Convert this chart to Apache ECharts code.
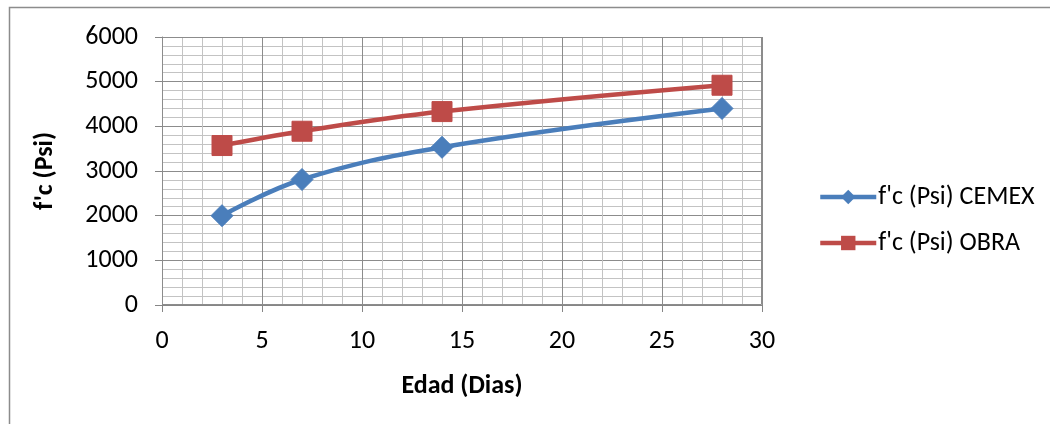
<!DOCTYPE html>
<html><head><meta charset="utf-8">
<script src="https://cdn.jsdelivr.net/npm/echarts@6/dist/echarts.min.js"></script>
<style>html,body{margin:0;padding:0;background:#fff}#c{width:1050px;height:424px}</style>
</head><body><div id="c"></div>
<script>
const days = [3, 7, 14, 28];
const cemex = [2000, 2810, 3530, 4400];
const obra = [3570, 3890, 4330, 4920];
const seriesNames = ["f'c (Psi) CEMEX", "f'c (Psi) OBRA"];
const xTitle = 'Edad (Dias)';
const yTitle = "f'c (Psi)";

const FONT = "Carlito, 'Open Sans', sans-serif";
const chart = echarts.init(document.getElementById('c'), null, {renderer: 'canvas'});
const axisCommon = {
  axisLine: {show: true, onZero: false, lineStyle: {color: '#868686', width: 1}},
  axisTick: {show: true, length: 7, lineStyle: {color: '#868686'}},
  splitLine: {show: true, lineStyle: {color: '#8c8c8c', width: 1}},
  minorTick: {show: true, splitNumber: 5, length: 0},
  minorSplitLine: {show: true, lineStyle: {color: '#c3c3c3', width: 1}},
  axisLabel: {color: '#000', fontFamily: FONT, fontSize: 26, formatter: v => String(v)}
};
chart.setOption({
  animation: false,
  backgroundColor: '#fff',
  graphic: [
    {type: 'rect', shape: {x: 9.5, y: 7.5, width: 1100, height: 500}, style: {fill: 'none', stroke: '#8c8c8c', lineWidth: 1.5}, z: 0},
    {type: 'rect', shape: {x: 162.5, y: 37.5, width: 599, height: 267}, style: {fill: 'none', stroke: '#8c8c8c', lineWidth: 1}, z: 5}
  ],
  grid: {left: 162, top: 37, width: 600, height: 268, containLabel: false},
  legend: {
    orient: 'vertical', left: 813, top: 179, itemGap: 20,
    itemWidth: 56, itemHeight: 18,
    lineStyle: {width: 4.5},
    textStyle: {fontFamily: FONT, fontSize: 26, color: '#000', padding: [0, 0, 0, -3]},
    data: seriesNames
  },
  xAxis: Object.assign({}, axisCommon, {
    type: 'value', min: 0, max: 30, interval: 5,
    axisLabel: Object.assign({}, axisCommon.axisLabel, {margin: 23}),
    name: xTitle, nameLocation: 'middle', nameGap: 68,
    nameTextStyle: {fontFamily: FONT, fontSize: 26, fontWeight: 'bold', color: '#000'}
  }),
  yAxis: Object.assign({}, axisCommon, {
    type: 'value', min: 0, max: 6000, interval: 1000,
    axisLabel: Object.assign({}, axisCommon.axisLabel, {margin: 24}),
    name: yTitle, nameLocation: 'middle', nameGap: 104, nameRotate: 90,
    nameTextStyle: {fontFamily: FONT, fontSize: 26, fontWeight: 'bold', color: '#000'}
  }),
  series: [
    {
      name: seriesNames[0], type: 'line', smooth: 0.4,
      data: days.map((d, i) => [d, cemex[i]]),
      symbol: 'diamond', symbolSize: 22,
      lineStyle: {color: '#4a7ebb', width: 4.5},
      itemStyle: {color: '#4a7ebb', borderColor: '#4a7ebb'},
      z: 10
    },
    {
      name: seriesNames[1], type: 'line', smooth: 0.4,
      data: days.map((d, i) => [d, obra[i]]),
      symbol: 'rect', symbolSize: 20,
      lineStyle: {color: '#be4b48', width: 4.5},
      itemStyle: {color: '#be4b48', borderColor: '#be4b48'},
      z: 11
    }
  ]
});
</script></body></html>
